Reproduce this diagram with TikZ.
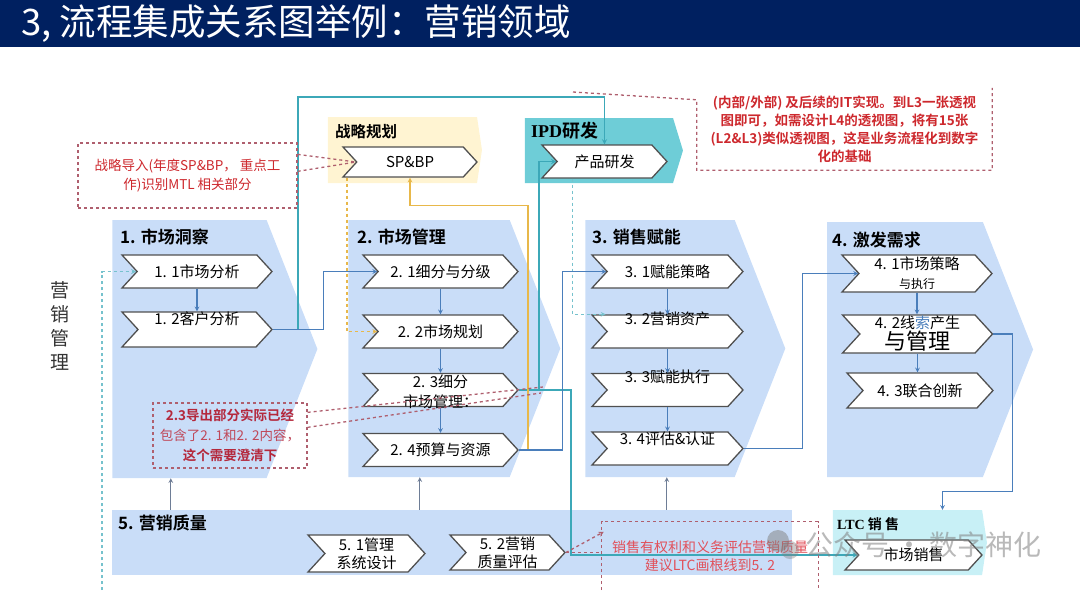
\documentclass[tikz,border=0pt]{standalone}
\usepackage{fontspec}
\setmainfont{Noto Sans CJK SC}[BoldFont={Noto Sans CJK SC Bold}]
\newfontfamily\lserif{Liberation Serif}
\usetikzlibrary{shapes.symbols,calc}

\definecolor{navy}{RGB}{0,32,96}
\definecolor{panelblue}{RGB}{201,221,248}
\definecolor{panelyel}{RGB}{255,244,210}
\definecolor{panelipd}{RGB}{110,205,215}
\definecolor{panelltc}{RGB}{200,240,246}
\definecolor{boxline}{RGB}{80,80,80}
\definecolor{tealln}{RGB}{60,168,184}
\definecolor{bluln}{RGB}{74,126,187}
\definecolor{yelln}{RGB}{232,184,74}
\definecolor{redtxt}{RGB}{205,40,45}
\definecolor{darkred}{RGB}{180,40,60}
\definecolor{reddsh}{RGB}{175,95,110}
\definecolor{pinktxt}{RGB}{225,80,90}
\definecolor{grayarr}{RGB}{110,125,150}

\begin{document}
\begin{tikzpicture}[x=1pt, y=-1pt, >=stealth,
  panel/.style={shape=signal, signal to=east, fill=panelblue, inner sep=0pt,
    minimum width=205pt, minimum height=258pt, signal pointer angle=137},
  chev/.style={shape=signal, signal from=west, signal to=east, signal pointer angle=95,
    draw=boxline, fill=white, line width=1.3pt, inner sep=0pt,
    minimum width=150pt, minimum height=33pt},
  boxtxt/.style={font=\fontsize{15}{20}\selectfont, align=center, inner sep=0pt},
  coltitle/.style={anchor=west, font=\bfseries\fontsize{17}{20}\selectfont, inner sep=0pt},
  callout/.style={inner sep=0pt, align=center, text=redtxt,
    font=\fontsize{13.5}{19}\selectfont},
  flow/.style={->, line width=1.1pt, draw=bluln},
  tealflow/.style={->, line width=1.3pt, draw=tealln},
  tealdash/.style={->, line width=1.1pt, draw=tealln!70, dashed},
  yelflow/.style={->, line width=1.1pt, draw=yelln},
  yeldash/.style={->, line width=1.1pt, draw=yelln, dashed},
  leftdash/.style={->, line width=1.3pt, draw=tealln!70, dashed},
  reddash/.style={line width=1.3pt, draw=reddsh, dashed},
  uparrow/.style={->, line width=1.1pt, draw=grayarr}]

  \useasboundingbox (0,0) rectangle (1080,590);

  % --- 1. 标题栏 ---
  \fill[navy] (0,0) rectangle (1080,47);
  \node[anchor=west, text=white, font=\fontsize{36.5}{40}\selectfont, inner sep=0pt] (title)
    at (21,24) {3, 流程集成关系图举例：营销领域};

  % --- 2. 背景区块 ---
  \node[panel] (col1) at (189.5,349) {};
  \node[panel, minimum width=212pt, minimum height=257pt] (col2) at (429,348.5) {};
  \node[panel, minimum width=200pt, minimum height=257pt] (col3) at (660,348.5) {};
  \node[panel, minimum width=206pt, minimum height=255pt] (col4) at (905,349.5) {};
  \node[fill=panelblue, minimum width=680pt, minimum height=65pt, inner sep=0pt] (colq) at (452,542.5) {};
  \node[panel, fill=panelyel, minimum width=154pt, minimum height=66pt, signal pointer angle=163] (panSP) at (402.5,150) {};
  \node[panel, fill=panelipd, minimum width=158pt, minimum height=65pt, signal pointer angle=146] (panIPD) at (599,150.5) {};
  \node[panel, fill=panelltc, minimum width=154pt, minimum height=65pt, signal pointer angle=163] (panLTC) at (907.5,542.5) {};

  % 区块标题
  \node[coltitle] (t1) at (120,237) {1. 市场洞察};
  \node[coltitle] (t2) at (357,237) {2. 市场管理};
  \node[coltitle] (t3) at (592,237) {3. 销售赋能};
  \node[coltitle] (t4) at (832,240) {4. 激发需求};
  \node[coltitle] (tq) at (118,523) {5. 营销质量};
  \node[coltitle, font=\bfseries\fontsize{15.5}{18}\selectfont] (tsp) at (335,132) {战略规划};
  \node[coltitle, font=\bfseries\fontsize{18}{20}\selectfont] (tipd) at (531,131) {{\lserif IPD}研发};
  \node[coltitle, font=\bfseries\fontsize{14}{16}\selectfont] (tltc) at (837,524) {{\lserif LTC} 销 售};

  \node[font=\fontsize{19}{24}\selectfont, align=center, text=black!80] (side) at (60,326) {营\\销\\管\\理};

  % --- 3. 流程框 ---
  \node[chev, label={[boxtxt]center:1. 1市场分析}] (p11) at (197,271.5) {};
  \node[chev, minimum height=35pt, label={[boxtxt, yshift=11pt]center:1. 2客户分析}] (p12) at (197,329.5) {};

  \node[chev, minimum width=155pt, label={[boxtxt]center:2. 1细分与分级}] (p21) at (440.5,271.5) {};
  \node[chev, minimum width=155pt, label={[boxtxt]center:2. 2市场规划}] (p22) at (440.5,331.5) {};
  \node[chev, minimum width=155pt, label={[boxtxt, yshift=-2pt]center:{2. 3细分\\市场管理：}}] (p23) at (440.5,390) {};
  \node[chev, minimum width=155pt, label={[boxtxt]center:2. 4预算与资源}] (p24) at (440.5,450) {};

  \node[chev, minimum width=151pt, label={[boxtxt]center:3. 1赋能策略}] (p31) at (667.5,271.5) {};
  \node[chev, minimum width=151pt, label={[boxtxt, yshift=13pt]center:3. 2营销资产}] (p32) at (667.5,331.5) {};
  \node[chev, minimum width=151pt, label={[boxtxt, yshift=13pt]center:3. 3赋能执行}] (p33) at (667.5,390) {};
  \node[chev, minimum width=151pt, label={[boxtxt, yshift=10pt]center:3. 4评估\&认证}] (p34) at (667.5,448.5) {};

  \node[chev, minimum height=37pt, label={[boxtxt, font=\fontsize{15}{19}\selectfont]center:{4. 1市场策略\\{\fontsize{12}{14}\selectfont 与执行}}}] (p41) at (917,273.5) {};
  \node[chev, minimum height=38pt, label={[boxtxt, font=\fontsize{15}{21}\selectfont]center:{4. 2线{\color{bluln}索}产生\\{\fontsize{22}{22}\selectfont 与管理}}}] (p42) at (917.5,334) {};
  \node[chev, minimum width=146pt, minimum height=35pt, label={[boxtxt]center:4. 3联合创新}] (p43) at (920,390.5) {};

  \node[chev, minimum width=117pt, minimum height=37pt, label={[boxtxt, font=\fontsize{15}{18}\selectfont]center:{5. 1管理\\系统设计}}] (p51) at (366.5,553.5) {};
  \node[chev, minimum width=115pt, minimum height=35pt, label={[boxtxt, font=\fontsize{15}{18}\selectfont]center:{5. 2营销\\质量评估}}] (p52) at (507.5,552.5) {};

  \node[chev, minimum width=134pt, minimum height=30pt, label={[boxtxt]center:SP\&BP}] (spbp) at (410,162) {};
  \node[chev, minimum width=125pt, label={[boxtxt]center:产品研发}] (rd) at (604.5,161.5) {};
  \node[chev, minimum width=137pt, minimum height=30pt, label={[boxtxt]center:市场销售}] (sales) at (913.5,555) {};

  % --- 4. 连接线 ---
  \foreach \a/\b in {p11/p12, p21/p22, p22/p23, p23/p24, p31/p32, p32/p33, p33/p34, p41/p42, p42/p43}
    \draw[flow] (\a.south) -- (\a.south |- \b.north);

  \coordinate (tbend) at (298,97);
  \draw[tealflow] (p12.east) -| (tbend) -| (rd.north);
  \draw[flow] (p12.east) -- ++(51,0) |- (p21.west);
  \draw[tealflow] (p23.east) -- ++(20,0) |- (rd.west);
  \draw[tealflow] (p23.east) -- ++(52,0) |- (sales.west);
  \draw[yelflow] (p24.east) -| ($(spbp.south)+(118,28)$) -| (spbp.south);
  \draw[yeldash] ($(spbp.south)+(-63,0)$) |- (p22.west);
  \draw[tealdash] ($(rd.south)+(-32,0)$) |- ($(p32.north)+(-62,0)$);
  \coordinate (lbot) at (102,590);
  \draw[leftdash] (lbot) |- (p11.west);
  \draw[flow] (p24.east) -- ++(44,0) |- (p31.west);
  \draw[flow] (p34.east) -- ++(59,0) |- (p41.west);
  \draw[flow] (p42.east) -| ($(panLTC.north)+(105,-18)$) -| ($(panLTC.north)+(35,0)$);

  \foreach \x/\c in {59/col1, 308/col2, 555/col3} {
    \coordinate (u) at ($(colq.north west)+(\x,0)$);
    \draw[uparrow] (u) -- (u |- \c.south);
  }

  % --- 5. 红色批注 ---
  \node[callout, draw=reddsh, dashed, line width=1.3pt, minimum width=219pt, minimum height=65pt] (callSP)
    at (187.5,175.5) {战略导入(年度SP\&BP， 重点工\\作)识别MTL 相关部分};
  \draw[reddash] ($(callSP.north east)+(0,12)$) -- (spbp.west);
  \draw[reddash] ($(callSP.north east)+(0,29)$) -- (spbp.west);

  \node[callout, draw=reddsh, dashed, line width=1.3pt, minimum width=154pt, minimum height=65pt,
    font=\fontsize{13.5}{20}\selectfont] (call23) at (230,435.5)
    {{\bfseries\color{darkred}2.3导出部分实际已经}\\{\color{darkred!85}包含了2. 1和2. 2内容，}\\{\bfseries\color{darkred}这个需要澄清下}};
  \draw[reddash] ($(call23.north east)+(0,10)$) -- ($(p23.east)+(24,-3)$);
  \draw[reddash] ($(call23.north east)+(0,25)$) -- ($(p23.east)+(22,3)$);

  \node[callout, font=\bfseries\fontsize{13.5}{18}\selectfont, minimum width=295pt, minimum height=82pt] (callIT)
    at (844.5,129) {(内部/外部) 及后续的IT实现。到L3一张透视\\图即可，如需设计L4的透视图，将有15张\\(L2\&L3)类似透视图，这是业务流程化到数字\\化的基础};
  \coordinate (itlead) at (573,92);
  \draw[reddash] (itlead) -- ($(callIT.north west)+(0,12)$) -- (callIT.south west)
    -- (callIT.south east) -- (callIT.north east);

  \node[callout, text=pinktxt, font=\fontsize{14}{18}\selectfont, minimum width=216pt, minimum height=68pt] (callLTC)
    at (710,556) {销售有权利和义务评估营销质量\\建议LTC画根线到5. 2};
  \draw[reddash] (callLTC.south west) -- (callLTC.north west) -- (callLTC.north east) -- (callLTC.south east);
  \draw[reddash, ->] (p52.east) -- ($(callLTC.north west)+(2,10)$);
  \draw[reddash] (p52.east) -- (callLTC.west |- p52.east);

  % --- 6. 水印 ---
  \fill[gray, opacity=0.5] (778,541) circle (11);
  \fill[gray, opacity=0.4] (790,550) circle (9);
  \node[text=gray, opacity=0.55, font=\fontsize{28}{30}\selectfont, anchor=west, inner sep=0pt] (wmark)
    at (805,545) {公众号 · 数字神化};

\end{tikzpicture}
\end{document}
